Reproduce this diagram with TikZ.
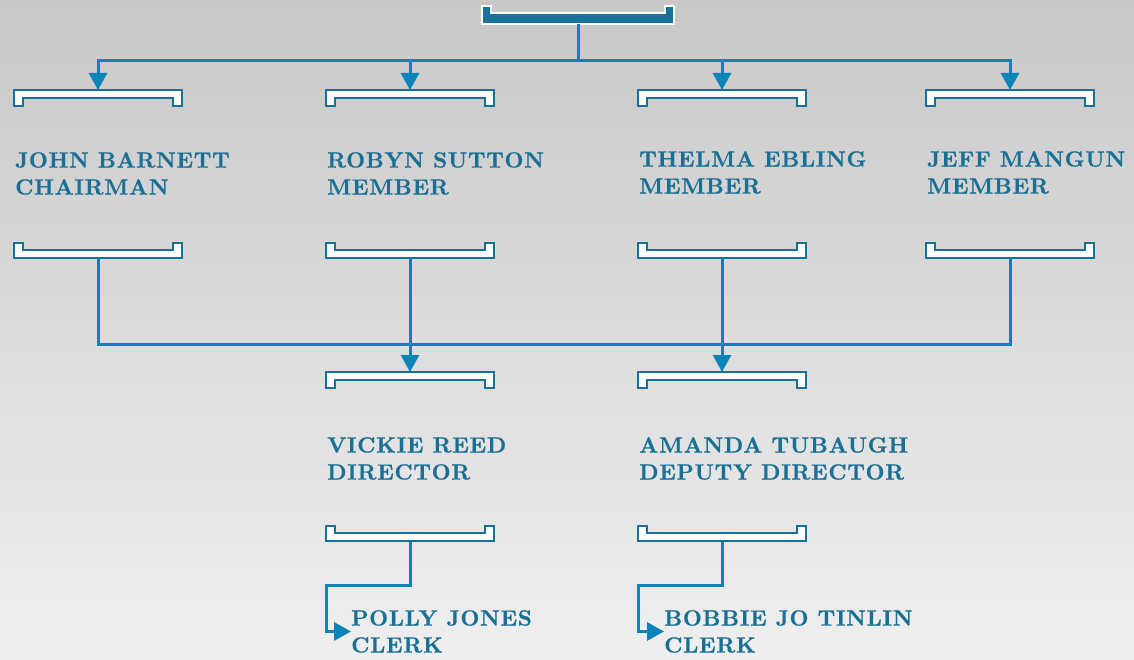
\documentclass[tikz,border=0pt]{standalone}
\usepackage{fontspec}
\newfontfamily\orgfont{lmroman10-bold.otf}[LetterSpace=3,FakeBold=0.6]
\usetikzlibrary{arrows.meta,calc}
\definecolor{textblue}{HTML}{1A6F95}
\definecolor{lineblue}{HTML}{0A84B9}
\definecolor{rootblue}{HTML}{17739A}
\definecolor{bgtop}{HTML}{C8C8C8}
\definecolor{bgbot}{HTML}{EFEFEF}
\tikzset{
  brk/.style={rectangle,minimum width=168pt,minimum height=16pt,inner sep=0pt,outer sep=0pt},
  brkb/.style={rectangle,minimum width=168pt,minimum height=15pt,inner sep=0pt,outer sep=0pt},
  rootbox/.style={rectangle,minimum width=192pt,minimum height=18pt,inner sep=0pt,outer sep=0pt},
  brkline/.style={draw=textblue,fill=white,line width=2pt,line join=miter},
  conn/.style={draw=lineblue,line width=3pt},
  arr/.style={conn,-{Triangle[length=17pt,width=18pt]}},
  persontext/.style={anchor=north west,inner sep=0pt,align=left,text=textblue,
    font=\orgfont\fontsize{22}{27}\selectfont}
}
\newcommand\topbracket[1]{%
  \path[brkline] (#1.north west) -- (#1.north east) -- (#1.south east) -- ++(-9,0) -- ++(0,-8)
    -- ($(#1.south west)+(9,-8)$) -- ++(0,8) -- (#1.south west) -- cycle;}
\newcommand\botbracket[1]{%
  \path[brkline] (#1.south west) -- (#1.south east) -- (#1.north east) -- ++(-9,0) -- ++(0,7)
    -- ($(#1.north west)+(9,7)$) -- ++(0,-7) -- (#1.north west) -- cycle;}
\begin{document}
\begin{tikzpicture}[x=1pt,y=-1pt]
\useasboundingbox (0,0) rectangle (1134,660);
\shade[top color=bgtop,bottom color=bgbot] (0,0) rectangle (1134,660);
% root
\node[rootbox] (root) at (578,15) {};
\path[fill=rootblue,draw=white,line width=2pt] (root.south west) -- (root.south east) -- (root.north east) -- ++(-9,0) -- ++(0,7)
    -- ($(root.north west)+(9,7)$) -- ++(0,-7) -- (root.north west) -- cycle;
% level 1 brackets
\node[brk] (tA) at (98,98) {};
\node[brk] (tB) at (410,98) {};
\node[brk] (tC) at (722,98) {};
\node[brk] (tD) at (1010,98) {};
\node[brkb] (bA) at (98,250.5) {};
\node[brkb] (bB) at (410,250.5) {};
\node[brkb] (bC) at (722,250.5) {};
\node[brkb] (bD) at (1010,250.5) {};
% level 2 brackets
\node[brk] (tV) at (410,380) {};
\node[brk] (tW) at (722,380) {};
\node[brkb] (bV) at (410,533) {};
\node[brkb] (bW) at (722,533) {};
% coordinates
\coordinate (bus1) at (578,61);
\coordinate (bus2) at (410,344);
\coordinate (bus3) at (722,344);
\coordinate (c1) at (326,585);
\coordinate (c2) at (638,585);
% texts
\node[persontext] (john) at (15,152) {JOHN BARNETT\\CHAIRMAN};
\node[persontext] (robyn) at (327,152) {ROBYN SUTTON\\MEMBER};
\node[persontext] (thelma) at (639,151) {THELMA EBLING\\MEMBER};
\node[persontext] (jeff) at (927,151) {JEFF MANGUN\\MEMBER};
\node[persontext] (vickie) at (327,437) {VICKIE REED\\DIRECTOR};
\node[persontext] (amanda) at (639,437) {AMANDA TUBAUGH\\DEPUTY DIRECTOR};
\node[persontext] (polly) at (351,610) {POLLY JONES\\CLERK};
\node[persontext] (bobbie) at (664,610) {BOBBIE JO TINLIN\\CLERK};
% connectors
\draw[conn] (root.south) -- (bus1);
\draw[arr] (bus1) -| (tA.north);
\draw[arr] (bus1) -| (tB.north);
\draw[arr] (bus1) -| (tC.north);
\draw[arr] (bus1) -| (tD.north);
\draw[conn] (bA.south) |- (bus2);
\draw[conn] (bB.south) -- (bus2);
\draw[conn] (bus2) -- (bus3);
\draw[conn] (bC.south) -- (bus3);
\draw[conn] (bD.south) |- (bus3);
\draw[arr] (bus2) -- (tV.north);
\draw[arr] (bus3) -- (tW.north);
\draw[arr] (bV.south) |- (c1) |- (polly.west);
\draw[arr] (bW.south) |- (c2) |- (bobbie.west);
% brackets on top
\topbracket{tA}\topbracket{tB}\topbracket{tC}\topbracket{tD}
\botbracket{bA}\botbracket{bB}\botbracket{bC}\botbracket{bD}
\topbracket{tV}\topbracket{tW}
\botbracket{bV}\botbracket{bW}
\end{tikzpicture}
\end{document}
